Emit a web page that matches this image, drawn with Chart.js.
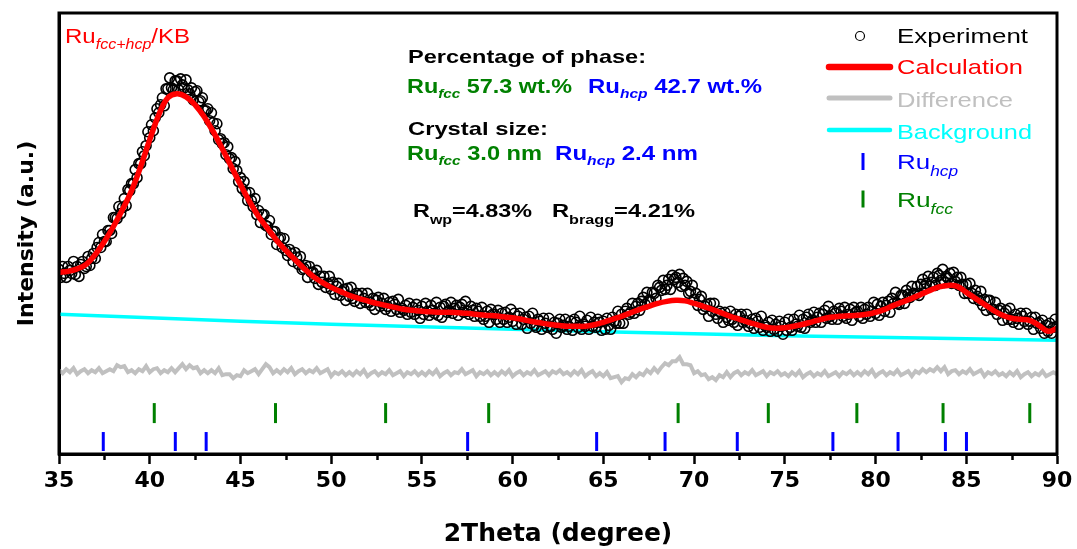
<!DOCTYPE html>
<html>
<head>
<meta charset="utf-8">
<title>Ru fcc+hcp/KB Rietveld refinement</title>
<script src="https://cdn.jsdelivr.net/npm/chart.js@4.4.1/dist/chart.umd.min.js"></script>
<style>
  html, body { margin: 0; padding: 0; background: #fff; }
  canvas { display: block; }
</style>
</head>
<body>
<canvas id="xrd" width="1077" height="549"></canvas>
<script>
// scan grid (degrees 2θ)
const scanStart = 35;
const obsStep = 0.1;
const calcStep = 0.5;
const diffStep = 0.2;
const bgStep = 5;

// observed intensity, one value per 0.1° (one row per degree)
const observed = [
  185,177,188,181,177, 188,184,181,193,180,
  188,178,190,193,186, 188,198,189,196,201,
  196,207,212,207,220, 213,213,224,224,221,
  237,237,236,248,241, 247,256,249,265,264,
  271,271,285,277,291, 291,303,299,309,323,
  317,330,324,337,346, 342,350,357,349,366,
  366,377,367,365,374, 374,365,376,370,367,
  375,365,361,367,355, 363,364,353,354,357,
  344,344,346,334,342, 332,324,331,315,316,
  311,312,300,308,296, 297,286,293,284,273,
  277,266,273,262,254, 262,254,248,256,240,
  244,232,240,240,229, 228,234,220,223,223,
  210,216,217,207,216, 204,199,205,201,193,
  202,197,190,198,185, 186,189,177,188,182,
  182,176,184,170,178, 172,178,167,171,178,
  165,172,160,168,171, 159,163,165,154,166,
  158,167,156,153,161, 159,151,161,156,152,
  161,152,149,156,145, 154,157,148,151,156,
  145,148,152,143,153, 150,145,155,142,146,
  144,149,140,151,142, 147,140,150,144,136,
  148,140,151,143,139, 149,144,141,152,139,
  147,137,148,150,142, 144,152,141,146,149,
  139,147,150,142,153, 143,140,148,144,138,
  146,143,138,147,135, 138,143,132,145,140,
  140,135,144,132,141, 135,142,132,137,145,
  133,141,130,138,141, 130,135,137,126,138,
  131,141,129,127,135, 133,125,136,131,127,
  136,128,125,132,121, 131,135,127,129,135,
  125,128,133,124,135, 132,127,138,125,130,
  128,134,125,137,128, 132,127,135,132,124,
  133,125,136,129,125, 137,133,131,143,131,
  140,131,143,146,140, 142,151,141,148,151,
  144,153,157,150,162, 154,153,162,161,156,
  169,167,164,174,165, 169,175,165,179,175,
  177,172,180,168,176, 169,173,161,163,169,
  155,161,149,155,158, 145,148,150,138,151,
  143,151,140,136,143, 141,132,142,137,134,
  143,135,132,140,129, 138,140,132,134,140,
  128,131,135,126,136, 133,127,138,124,129,
  127,132,123,134,125, 130,123,133,128,120,
  132,124,135,127,124, 135,130,128,139,127,
  135,126,137,140,132, 134,142,132,137,141,
  132,140,144,136,148, 138,135,143,141,135,
  146,143,138,147,136, 140,145,134,147,142,
  143,138,147,136,145, 140,147,138,143,152,
  141,150,139,148,152, 143,149,153,142,156,
  151,162,151,150,159, 159,151,164,160,157,
  168,161,160,168,159, 170,175,168,171,178,
  168,172,177,169,181, 179,174,185,172,178,
  176,181,171,182,173, 177,169,177,170,161,
  170,161,171,161,156, 164,158,154,163,149,
  155,144,154,154,145, 145,152,140,144,146,
  134,141,144,135,146, 135,132,140,136,130,
  141,138,133,141,130, 133,137,125,137,131,
  132,126,134,121,129, 123,131,121,127,135,
  128
];

// calculated profile, every 0.5°
const calculated = [
  182,183,185.5,190,200,213,228,245,264,288,
  315,340,357,361,358,350,338,323,306,288,
  270,253,238,226,214,204,195,186,178,172,
  167,163,159,156,153.5,151,149,147,145,144,
  143,142.5,142,142,141.5,141,140,139,138.5,137.5,
  136.5,135,133,131.5,130,129,128,128,128,129.5,
  132,135,138,141.5,145,148,151,153,154,153.5,
  151,148,145,141.5,138,135,132,129.5,127,126,
  126.5,128,130,132.5,135,137,138,138.5,139,140,
  142,145,149,152.5,156,160,164,167.5,169,168,
  162,156,150,144,139,136,135,134,129,123,
  126
];

// difference curve (offset), every 0.2°
const difference = [
  84,81,85,82,86, 80,83,85,81,84, 82,86,81,83,85, 83,89,87,88,82,
  84,81,85,83,88, 82,85,86,81,84, 82,86,82,86,90, 85,89,86,87,81,
  84,81,84,81,86, 79,80,80,76,79, 78,84,81,83,85, 80,85,90,87,81,
  84,81,85,82,86, 80,83,85,81,84, 82,86,81,83,85, 78,82,80,83,79,
  82,79,83,80,84, 78,81,83,79,82, 80,84,79,81,83, 78,82,80,83,79,
  82,79,83,80,84, 78,81,83,79,82, 81,85,80,82,84, 78,82,80,83,79,
  82,79,83,80,84, 78,81,83,79,82, 80,84,79,81,83, 79,83,81,84,80,
  82,79,83,80,84, 78,81,83,78,81, 78,82,76,77,78, 72,76,75,80,77,
  81,79,84,81,86, 82,87,91,89,93, 93,97,90,90,89, 81,83,79,80,75,
  77,74,79,77,82, 77,81,83,79,82, 80,84,79,81,83, 78,82,80,83,79,
  81,78,82,79,83, 77,80,82,78,81, 79,83,78,80,82, 78,82,80,83,79,
  82,79,83,80,84, 78,81,83,79,82, 80,84,79,81,83, 78,83,81,85,82,
  85,83,87,83,87, 80,83,84,80,83, 81,85,80,82,84, 78,82,80,83,79,
  81,78,82,79,83, 77,80,82,78,81, 79,83,78,80,82,
  80
];

// refined background, every 5°
const background = [140,136.5,133,130,127.5,125,122.5,120.5,118.5,117,115.5,114];

// Bragg reflection positions (2θ)
const reflFcc = [40.25, 46.93, 53.0, 58.68, 69.12, 74.09, 78.97, 83.72, 88.5];
const reflHcp = [37.44, 41.41, 43.11, 57.52, 64.63, 68.40, 72.38, 77.65, 81.24, 83.85, 85.01];

const RED = '#ff0000', GREEN = '#008000', BLUE = '#0000ff', CYAN = '#00ffff', GRAY = '#c0c0c0';
const FONT = "'Liberation Sans', Arial, sans-serif";
const AXIS_FONT = "'DejaVu Sans', sans-serif";
const fccRow = 41, hcpRow = 12.5;

function toPoints(values, step) {
  return values.map((y, i) => ({ x: +(scanStart + i * step).toFixed(2), y: y }));
}
function tickPoints(list, row) {
  return list.map(x => ({ x: x, y: row }));
}

function font(size, bold, italic) {
  return (italic ? 'italic ' : '') + (bold ? 'bold ' : '') + size + 'px ' + FONT;
}
function txt(text, size, color, opts) {
  opts = opts || {};
  return { text: text, size: size, color: color, bold: !!opts.bold, italic: !!opts.italic, dy: opts.dy || 0 };
}

// draws a run of styled pieces, squeezed/stretched to the given width
function drawRich(ctx, x, y, width, parts) {
  let natural = 0;
  const widths = parts.map(p => {
    ctx.font = font(p.size, p.bold, p.italic);
    const w = ctx.measureText(p.text).width;
    natural += w;
    return w;
  });
  ctx.save();
  ctx.translate(x, y);
  ctx.scale(width / natural, 1);
  ctx.textAlign = 'left';
  ctx.textBaseline = 'alphabetic';
  let cx = 0;
  parts.forEach((p, i) => {
    ctx.font = font(p.size, p.bold, p.italic);
    ctx.fillStyle = p.color;
    ctx.fillText(p.text, cx, p.dy);
    cx += widths[i];
  });
  ctx.restore();
}

function phaseLabel(phase, rest, color) {
  return [
    txt('Ru', 20, color, { bold: true }),
    txt(phase, 13, color, { bold: true, italic: true, dy: 5 }),
    txt(rest, 20, color, { bold: true })
  ];
}

const notes = [
  { x: 65, y: 42.5, w: 125, parts: [txt('Ru', 21, RED), txt('fcc+hcp', 14, RED, { italic: true, dy: 6 }), txt('/KB', 21, RED)] },
  { x: 408, y: 62.5, w: 238, parts: [txt('Percentage of phase:', 19, '#000', { bold: true })] },
  { x: 407, y: 93, w: 165, parts: phaseLabel('fcc', ' 57.3 wt.%', GREEN) },
  { x: 588, y: 93, w: 174, parts: phaseLabel('hcp', ' 42.7 wt.%', BLUE) },
  { x: 408, y: 135, w: 140, parts: [txt('Crystal size:', 19, '#000', { bold: true })] },
  { x: 407, y: 160, w: 135, parts: phaseLabel('fcc', ' 3.0 nm', GREEN) },
  { x: 555, y: 160, w: 143, parts: phaseLabel('hcp', ' 2.4 nm', BLUE) },
  { x: 413, y: 216.5, w: 119, parts: [txt('R', 19, '#000', { bold: true }), txt('wp', 13, '#000', { bold: true, dy: 7 }), txt('=4.83%', 19, '#000', { bold: true })] },
  { x: 552, y: 216.5, w: 143, parts: [txt('R', 19, '#000', { bold: true }), txt('bragg', 13, '#000', { bold: true, dy: 7 }), txt('=4.21%', 19, '#000', { bold: true })] }
];

// legend rows: sample y, text baseline, text width
const legendRows = [
  { ds: 1, kind: 'circle', y: 36, base: 42.5, w: 131, label: [txt('Experiment', 21, '#000')] },
  { ds: 0, kind: 'line', y: 67, base: 74, w: 126, label: [txt('Calculation', 21, RED)] },
  { ds: 3, kind: 'line', y: 98, base: 106.5, w: 116, label: [txt('Difference', 21, GRAY)] },
  { ds: 2, kind: 'line', y: 130, base: 138.5, w: 135, label: [txt('Background', 21, CYAN)] },
  { ds: 4, kind: 'tick', y: 161.5, base: 169, w: 61, label: [txt('Ru', 21, BLUE), txt('hcp', 14, BLUE, { italic: true, dy: 7 })] },
  { ds: 5, kind: 'tick', y: 199, base: 206.5, w: 56, label: [txt('Ru', 21, GREEN), txt('fcc', 14, GREEN, { italic: true, dy: 7 })] }
];

const decorations = {
  id: 'decorations',
  afterDraw(chart) {
    const ctx = chart.ctx;
    const area = chart.chartArea;
    const xs = chart.scales.x;

    // frame
    ctx.save();
    ctx.strokeStyle = '#000';
    ctx.lineWidth = 3;
    ctx.strokeRect(area.left, area.top, area.right - area.left, area.bottom - area.top);

    // minor ticks halfway between labelled ones
    ctx.lineWidth = 2.5;
    for (let v = scanStart + 2.5; v < xs.max; v += 5) {
      const px = Math.round(xs.getPixelForValue(v)) + 0.5;
      ctx.beginPath();
      ctx.moveTo(px, area.bottom);
      ctx.lineTo(px, area.bottom + 6);
      ctx.stroke();
    }
    ctx.restore();

    notes.forEach(n => drawRich(ctx, n.x, n.y, n.w, n.parts));

    // legend
    const sampleL = 829, sampleR = 890, markX = 863, textX = 897;
    legendRows.forEach(row => {
      const ds = chart.data.datasets[row.ds];
      ctx.save();
      if (row.kind === 'circle') {
        ctx.beginPath();
        ctx.arc(markX - 3, row.y, 4.5, 0, Math.PI * 2);
        ctx.lineWidth = 1.2;
        ctx.strokeStyle = ds.pointBorderColor;
        ctx.stroke();
      } else if (row.kind === 'line') {
        ctx.beginPath();
        ctx.moveTo(sampleL, row.y);
        ctx.lineTo(sampleR, row.y);
        ctx.lineCap = 'round';
        ctx.lineWidth = ds.borderWidth + 1;
        ctx.strokeStyle = ds.borderColor;
        ctx.stroke();
      } else {
        ctx.beginPath();
        ctx.moveTo(markX, row.y - 8.5);
        ctx.lineTo(markX, row.y + 8.5);
        ctx.lineWidth = ds.pointBorderWidth;
        ctx.strokeStyle = ds.pointBorderColor;
        ctx.stroke();
      }
      ctx.restore();
      drawRich(ctx, textX, row.base, row.w, row.label);
    });
  }
};

new Chart(document.getElementById('xrd'), {
  type: 'line',
  data: {
    datasets: [
      {
        label: 'Calculation',
        data: toPoints(calculated, calcStep),
        borderColor: RED,
        borderWidth: 5.5,
        pointRadius: 0,
        tension: 0.4,
        order: 0
      },
      {
        label: 'Experiment',
        data: toPoints(observed, obsStep),
        showLine: false,
        pointRadius: 5,
        pointBorderWidth: 1.6,
        pointBorderColor: '#000',
        pointBackgroundColor: 'rgba(255,255,255,0)',
        order: 1
      },
      {
        label: 'Background',
        data: toPoints(background, bgStep),
        borderColor: CYAN,
        borderWidth: 3.5,
        pointRadius: 0,
        tension: 0.4,
        order: 2
      },
      {
        label: 'Difference',
        data: toPoints(difference, diffStep),
        borderColor: GRAY,
        borderWidth: 4,
        pointRadius: 0,
        order: 3
      },
      {
        label: 'Ru hcp',
        data: tickPoints(reflHcp, hcpRow),
        showLine: false,
        pointStyle: 'line',
        pointRotation: 90,
        pointRadius: 9.5,
        pointBorderWidth: 3,
        pointBorderColor: BLUE,
        order: 4
      },
      {
        label: 'Ru fcc',
        data: tickPoints(reflFcc, fccRow),
        showLine: false,
        pointStyle: 'line',
        pointRotation: 90,
        pointRadius: 10,
        pointBorderWidth: 3,
        pointBorderColor: GREEN,
        order: 5
      }
    ]
  },
  options: {
    responsive: false,
    devicePixelRatio: 1,
    animation: false,
    layout: { padding: { top: 12, right: 20, bottom: 0, left: 0 } },
    plugins: { legend: { display: false }, tooltip: { enabled: false } },
    scales: {
      x: {
        type: 'linear',
        min: 35,
        max: 90,
        afterFit: s => { s.height = 95; },
        ticks: {
          stepSize: 5,
          padding: 4,
          color: '#000',
          font: { family: AXIS_FONT, size: 22, weight: 'bold' }
        },
        grid: {
          drawOnChartArea: false,
          drawTicks: true,
          tickLength: 10,
          tickWidth: 2.5,
          tickColor: '#000'
        },
        border: { display: true, width: 3, color: '#000' },
        title: {
          display: true,
          text: '2Theta (degree)',
          color: '#000',
          padding: { top: 0, bottom: 0 },
          font: { family: AXIS_FONT, size: 25, weight: 'bold' }
        }
      },
      y: {
        min: 0,
        max: 442,
        afterFit: s => { s.width = 59; },
        ticks: { display: false },
        grid: { display: false, drawTicks: false },
        border: { display: true, width: 3, color: '#000' },
        title: {
          display: true,
          text: 'Intensity (a.u.)',
          color: '#000',
          padding: { top: 14, bottom: 0 },
          font: { family: AXIS_FONT, size: 22, weight: 'bold' }
        }
      }
    }
  },
  plugins: [decorations]
});
</script>
</body>
</html>
